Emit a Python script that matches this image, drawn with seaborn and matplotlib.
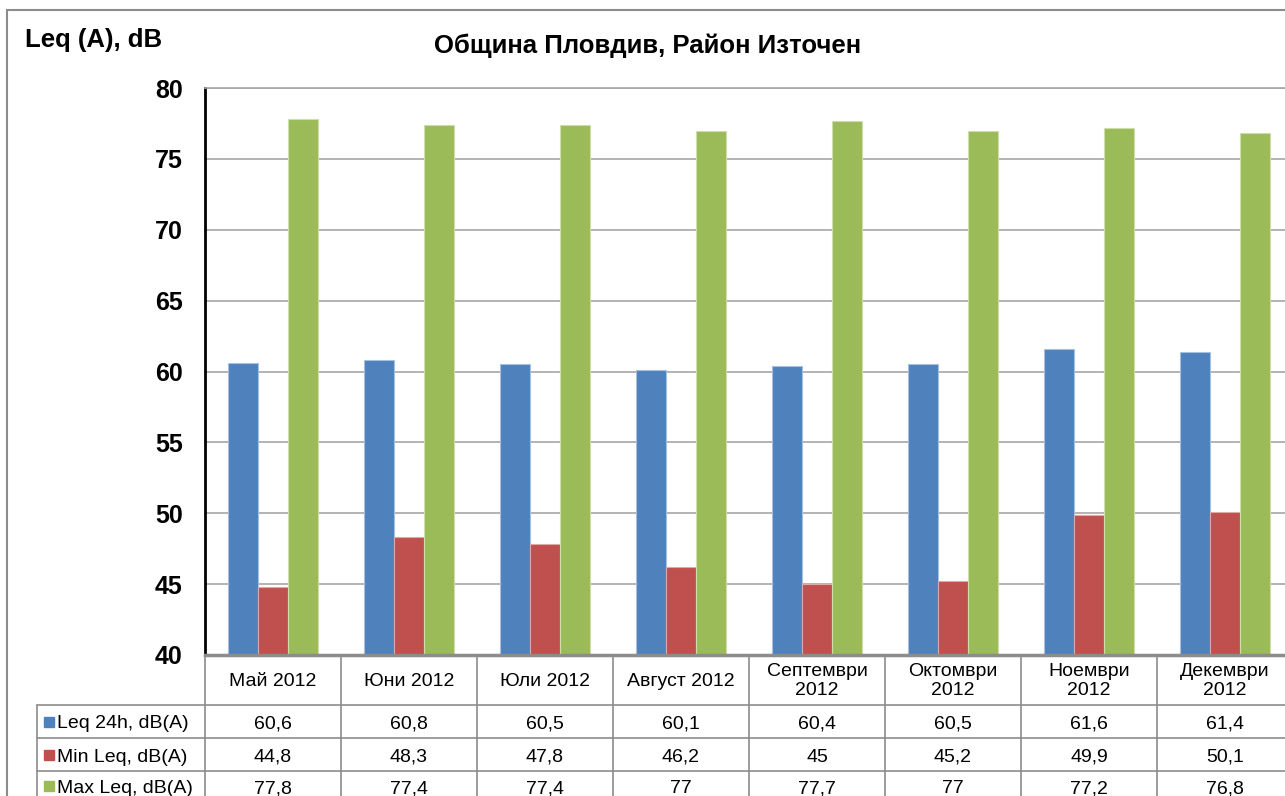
import matplotlib.pyplot as plt
import seaborn as sns
import pandas as pd
from matplotlib.lines import Line2D
from matplotlib.patches import Rectangle

sns.set_theme(style="white")
plt.rcParams['font.family'] = ['Liberation Sans', 'DejaVu Sans']
plt.rcParams['text.color'] = 'black'
plt.rcParams['ytick.color'] = 'black'

# Данни
months = ["Май 2012", "Юни 2012", "Юли 2012", "Август 2012",
          "Септември\n2012", "Октомври\n2012", "Ноември\n2012", "Декември\n2012"]
series = ["Leq 24h, dB(A)", "Min Leq, dB(A)", "Max Leq, dB(A)"]
leq_24h = [60.6, 60.8, 60.5, 60.1, 60.4, 60.5, 61.6, 61.4]
min_leq = [44.8, 48.3, 47.8, 46.2, 45.0, 45.2, 49.9, 50.1]
max_leq = [77.8, 77.4, 77.4, 77.0, 77.7, 77.0, 77.2, 76.8]
colors = ["#4F81BD", "#C0504D", "#9BBB59"]
edges = ["#A7C0DE", "#E0A8A6", "#CDDDAC"]

df = pd.DataFrame({
    "month": months * 3,
    "series": [series[0]] * 8 + [series[1]] * 8 + [series[2]] * 8,
    "value": leq_24h + min_leq + max_leq,
})

W, H = 1285, 796
fig = plt.figure(figsize=(W / 100, H / 100), dpi=100)

# рамка на диаграмата
fig.patches.append(Rectangle((7 / W, -0.1), 1.2, 1 - 10 / H + 0.1, transform=fig.transFigure,
                             fill=False, edgecolor="#8C8C8C", linewidth=1.5))

# пикселни граници на областта с графиката
x0, x1 = 205, 1293
y_top, y_bot = 88, 655
ax = fig.add_axes([x0 / W, 1 - y_bot / H, (x1 - x0) / W, (y_bot - y_top) / H])

sns.barplot(data=df, x="month", y="value", hue="series", palette=colors,
            width=0.662, ax=ax, legend=False, saturation=1, linewidth=0.8)
for i, container in enumerate(ax.containers):
    for bar in container:
        bar.set_edgecolor(edges[i])

ax.set_ylim(40, 80)
ax.set_xlim(-0.5, 7.5)
ax.set_yticks(range(40, 81, 5))
ax.set_xticks([])
ax.set_xlabel("")
ax.set_ylabel("")
ax.tick_params(axis="y", labelsize=18, pad=16, length=0)
for lbl in ax.get_yticklabels():
    lbl.set_fontweight("bold")
ax.yaxis.grid(True, color="#A6A6A6", linewidth=1.2)
ax.set_axisbelow(True)
ax.spines["left"].set_color("black")
ax.spines["left"].set_linewidth(2)
ax.spines["bottom"].set_color("#8C8C8C")
ax.spines["bottom"].set_linewidth(2.5)
ax.spines["top"].set_color("#A6A6A6")
ax.spines["top"].set_linewidth(1.2)
ax.spines["right"].set_visible(False)

fig.text(25 / W, 1 - 40 / H, "Leq (A), dB", fontsize=18.5, fontweight="bold", va="center", ha="left")
fig.text(648 / W, 1 - 46 / H, "Община Пловдив, Район Източен", fontsize=18.5,
         fontweight="bold", va="center", ha="center")

# таблица с данни под графиката
tab = fig.add_axes([x0 / W, 1 - 804 / H, (x1 - x0) / W, (804 - 655) / H])
tab.set_xlim(-0.5, 7.5)
tab.set_ylim(804, 655)
tab.axis("off")
px = 8 / (x1 - x0)  # данни на пиксел
left = -0.5 - 168 * px
grid_c = "#8C8C8C"
rows = [705, 738, 771, 804]
for yy in rows[:3]:
    tab.add_line(Line2D([left, 7.5], [yy, yy], color=grid_c, lw=1.2, clip_on=False))
tab.add_line(Line2D([left, left], [705, 804], color=grid_c, lw=1.2, clip_on=False))
for i in range(8):
    tab.add_line(Line2D([i + 0.5, i + 0.5], [655, 804], color=grid_c, lw=1.2, clip_on=False))
tab.add_line(Line2D([-0.5, -0.5], [655, 804], color=grid_c, lw=1.2, clip_on=False))

fs = 14
for i, m in enumerate(months):
    tab.text(i, 681, m, ha="center", va="center", fontsize=fs, linespacing=1.12)

values = [leq_24h, min_leq, max_leq]
for r, (name, vals) in enumerate(zip(series, values)):
    yc = (rows[r] + rows[r + 1]) / 2 if r < 2 else 786
    base = yc + 7
    tab.add_patch(Rectangle((left + 7 * px, yc - 5), 10 * px, 10, color=colors[r], clip_on=False))
    tab.text(left + 20 * px, base, name, ha="left", va="baseline", fontsize=fs, clip_on=False)
    for i, v in enumerate(vals):
        txt = f"{v:g}".replace(".", ",")
        tab.text(i, base, txt, ha="center", va="baseline", fontsize=fs)

fig.savefig("out.png", dpi=100)
